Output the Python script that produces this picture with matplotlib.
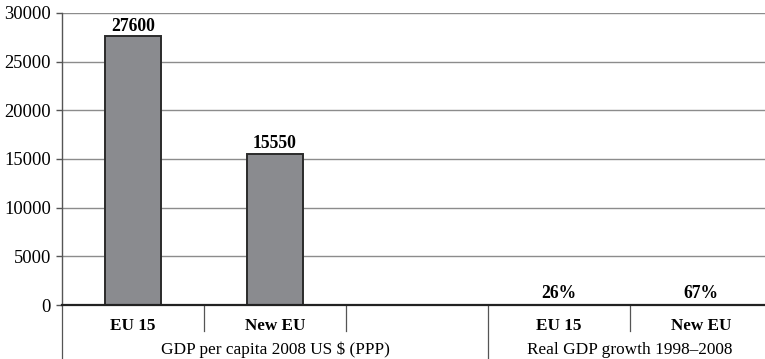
import matplotlib
matplotlib.use("Agg")
import matplotlib.pyplot as plt
import matplotlib.transforms as mtransforms
import numpy as np

plt.rcParams['font.family'] = ['Liberation Serif', 'DejaVu Serif']

# categories along the x axis (the middle slot is left empty)
categories = ["EU 15", "New EU", "", "EU 15", "New EU"]
groups = ["GDP per capita 2008 US $ (PPP)", "Real GDP growth 1998\u20132008"]
group_spans = [(0, 3), (3, 5)]

gdp_per_capita = [27600, 15550]        # US $ (PPP)
gdp_growth = [26, 67]                  # percent
yticks = [0, 5000, 10000, 15000, 20000, 25000, 30000]

W, H = 765, 359
fig = plt.figure(figsize=(W / 100, H / 100), dpi=100)
ax = fig.add_axes([62 / W, 54 / H, (772 - 62) / W, (305 - 13) / H])

bar_kw = dict(width=0.4, color="#8a8b8f", edgecolor="#2b2b2b", linewidth=1.4, zorder=3)
x_gdp = np.array([0.5, 1.5])
x_growth = np.array([3.5, 4.5])
b1 = ax.bar(x_gdp, gdp_per_capita, **bar_kw)
b2 = ax.bar(x_growth, gdp_growth, width=0.4, color="#8a8b8f", linewidth=0, zorder=3)
ax.bar_label(b1, labels=[str(v) for v in gdp_per_capita], padding=1,
             fontsize=12.7, fontweight="bold")
ax.bar_label(b2, labels=[f"{v}%" for v in gdp_growth], padding=2,
             fontsize=12.7, fontweight="bold")

ax.set_xlim(0, 5)
ax.set_ylim(0, 30000)
ax.set_yticks(yticks)
ax.set_yticklabels([str(t) for t in yticks], fontsize=13.3)
ax.tick_params(axis="y", length=4, width=1, color="#555555", pad=4)
ax.set_xticks([])

for y in yticks[1:]:
    ax.axhline(y, color="#8c8c8c", linewidth=1, zorder=1)

for s in ["top", "right"]:
    ax.spines[s].set_visible(False)
ax.spines["bottom"].set_color("#222222")
ax.spines["bottom"].set_linewidth(1.6)
ax.spines["bottom"].set_zorder(4)
ax.spines["left"].set_color("#555555")
ax.spines["left"].set_linewidth(1)

# category and group labels below the axis
trans = mtransforms.blended_transform_factory(ax.transData, fig.transFigure)
for i, name in enumerate(categories):
    ax.text(i + 0.5, (H - 326) / H, name, transform=trans, ha="center", va="center",
            fontsize=12.3, fontweight="bold")
for name, (a, b) in zip(groups, group_spans):
    ax.text((a + b) / 2, (H - 350) / H, name, transform=trans, ha="center", va="center",
            fontsize=12.4)

# separators between categories and groups
y0 = (H - 305) / H
for x in [1, 2, 4]:
    ax.plot([x, x], [y0, (H - 331) / H], transform=trans, color="#555555",
            linewidth=0.9, clip_on=False)
for x in [0, 3]:
    ax.plot([x, x], [y0, 0], transform=trans, color="#555555",
            linewidth=0.9, clip_on=False)

fig.savefig("out.png", dpi=100)
